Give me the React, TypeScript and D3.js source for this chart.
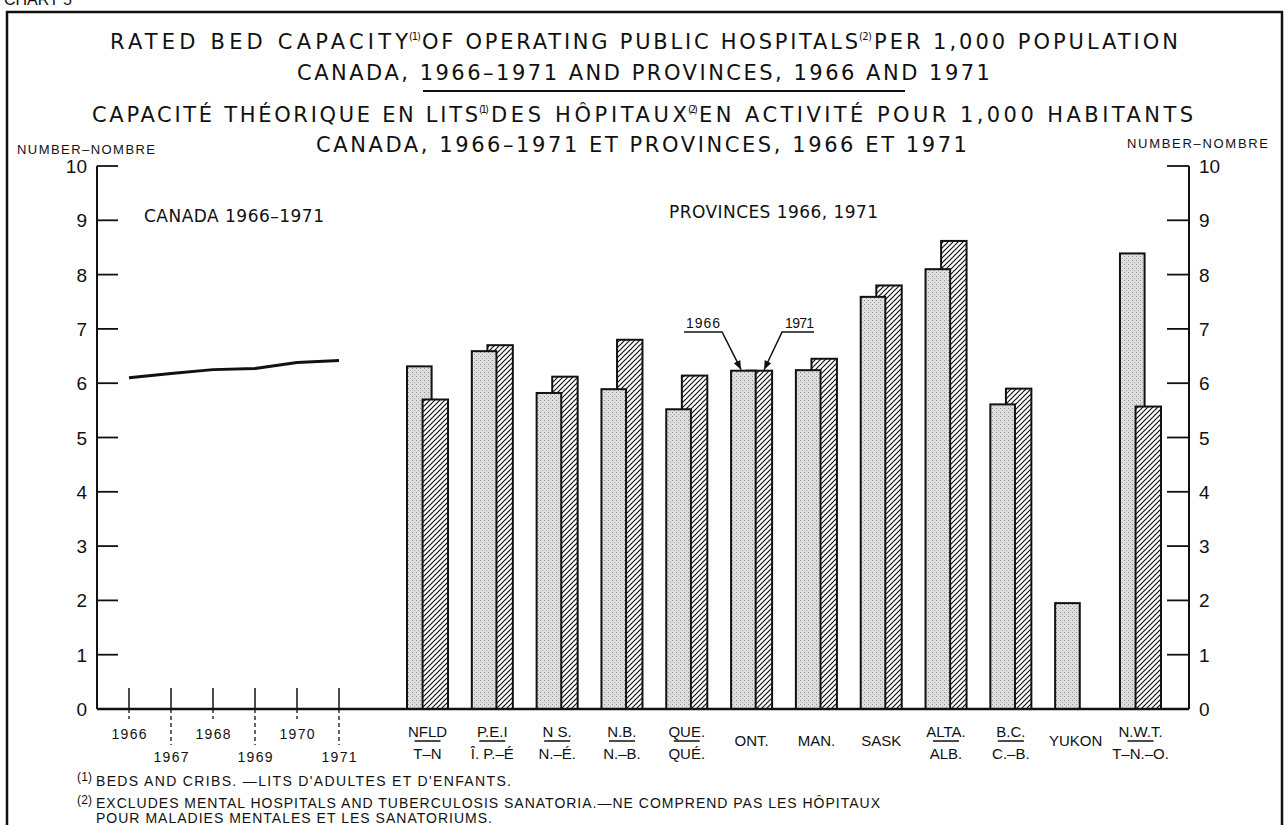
import React from "react";
import * as d3 from "d3";

// ---------- data ----------
const years = [1966, 1967, 1968, 1969, 1970, 1971];
const canadaValues = [6.1, 6.18, 6.25, 6.27, 6.38, 6.42];

const provinceCodes = ["NFLD", "P.E.I", "N S.", "N.B.", "QUE.", "ONT.", "MAN.", "SASK", "ALTA.", "B.C.", "YUKON", "N.W.T."];
const provinceFr = ["T–N", "Î. P.–É", "N.–É.", "N.–B.", "QUÉ.", "", "", "", "ALB.", "C.–B.", "", "T–N.–O."];
const values1966 = [6.31, 6.59, 5.82, 5.89, 5.52, 6.23, 6.24, 7.59, 8.1, 5.61, 1.95, 8.39];
const values1971: (number | null)[] = [5.7, 6.7, 6.12, 6.8, 6.14, 6.23, 6.45, 7.8, 8.62, 5.9, null, 5.57];

const yTicks = [0, 1, 2, 3, 4, 5, 6, 7, 8, 9, 10];
const yTickLabels = ["0", "1", "2", "3", "4", "5", "6", "7", "8", "9", "10"];

const FONT = "'Liberation Sans', Arial, sans-serif";
const TFONT = "'DejaVu Sans', 'Liberation Sans', sans-serif";

type TProps = { x: number; y: number; len?: number; size: number; anchor?: "start" | "middle" | "end"; font?: string; children: React.ReactNode };
const T = ({ x, y, len, size, anchor = "start", font = FONT, children }: TProps) => (
  <text
    x={x}
    y={y}
    fontSize={size}
    fontFamily={font}
    textAnchor={anchor}
    fill="#111"
    {...(len ? { textLength: len, lengthAdjust: "spacing" } : {})}
  >
    {children}
  </text>
);

export default function App() {
  const W = 1285;
  const H = 825;
  const y = d3.scaleLinear().domain([0, 10]).range([709, 166]);
  const xYear = d3.scaleLinear().domain([1966, 1971]).range([129, 339]);
  const xProv = d3.scaleBand<string>().domain(provinceCodes).range([407, 1161]).paddingInner(0.367).paddingOuter(0);
  const bw = xProv.bandwidth();
  const w66 = bw * 0.6;
  const off71 = bw * 0.38;
  const w71 = bw * 0.62;

  const line = d3
    .line<number>()
    .x((_, i) => xYear(years[i]))
    .y((d) => y(d))
    .curve(d3.curveLinear);

  const axisL = 97;
  const axisR = 1189;
  const y0 = y(0);

  const ontX = xProv("ONT.") as number;
  const ontTop = y(values1966[5]);

  return (
    <svg width={W} height={H} style={{ position: "absolute", left: 0, top: 0, background: "#fff" }}>
      <defs>
        <pattern id="stip" width="4" height="4" patternUnits="userSpaceOnUse">
          <rect width="4" height="4" fill="#dedede" />
          <rect x="0" y="0" width="1" height="1" fill="#8f8f8f" />
          <rect x="2" y="2" width="1" height="1" fill="#a8a8a8" />
        </pattern>
        <pattern id="hatch" width="5" height="5" patternUnits="userSpaceOnUse">
          <rect width="5" height="5" fill="#fff" />
          <path d="M-1,6 L6,-1 M-1,1 L1,-1 M4,6 L6,4" stroke="#111" strokeWidth="1.2" />
        </pattern>
        <marker id="arrow" viewBox="0 0 10 10" refX="10" refY="5" markerWidth="9" markerHeight="9" orient="auto-start-reverse" markerUnits="userSpaceOnUse">
          <path d="M0,1 L10,5 L0,9 Z" fill="#111" />
        </marker>
      </defs>

      {/* chart label (cut off at top, as in the source) */}
      <T x={4} y={5} size={16}>CHART 5</T>
      {/* frame */}
      <rect x={7} y={12} width={1275} height={900} fill="none" stroke="#111" strokeWidth={2.5} />

      {/* titles */}
      <T font={TFONT} x={110} y={49} len={298} size={21}>RATED BED CAPACITY</T>
      <T font={TFONT} x={409} y={40} len={12} size={10}>(1)</T>
      <T font={TFONT} x={422} y={49} len={436} size={21}>OF OPERATING PUBLIC HOSPITALS</T>
      <T font={TFONT} x={859} y={40} len={13} size={10}>(2)</T>
      <T font={TFONT} x={874} y={49} len={304} size={21}>PER 1,000 POPULATION</T>

      <T font={TFONT} x={297} y={80} len={693} size={21}>CANADA, 1966–1971 AND PROVINCES, 1966 AND 1971</T>
      <line x1={423} x2={905} y1={91} y2={91} stroke="#111" strokeWidth={2} />

      <T font={TFONT} x={92} y={122} len={386} size={21}>CAPACITÉ THÉORIQUE EN LITS</T>
      <T font={TFONT} x={479} y={113} len={10} size={10}>(1)</T>
      <T font={TFONT} x={491} y={122} len={196} size={21}>DES HÔPITAUX</T>
      <T font={TFONT} x={688} y={113} len={10} size={10}>(2)</T>
      <T font={TFONT} x={699} y={122} len={494} size={21}>EN ACTIVITÉ POUR 1,000 HABITANTS</T>

      <T font={TFONT} x={316} y={152} len={651} size={21}>CANADA, 1966–1971 ET PROVINCES, 1966 ET 1971</T>

      {/* axis unit labels */}
      <T x={17} y={154} len={138} size={13}>NUMBER–NOMBRE</T>
      <T x={1127} y={148} len={141} size={13}>NUMBER–NOMBRE</T>

      {/* panel labels */}
      <T font={TFONT} x={144} y={222} len={180} size={17}>CANADA 1966–1971</T>
      <T font={TFONT} x={669} y={218} len={209} size={17}>PROVINCES 1966, 1971</T>

      {/* axes */}
      <line x1={axisL} x2={axisL} y1={y(10)} y2={y0} stroke="#111" strokeWidth={2} />
      <line x1={axisR} x2={axisR} y1={y(10)} y2={y0} stroke="#111" strokeWidth={2} />
      {yTicks.map((v, i) => (
        <g key={v}>
          {v > 0 && <line x1={axisL} x2={axisL + 21} y1={y(v)} y2={y(v)} stroke="#111" strokeWidth={1.8} />}
          {v > 0 && <line x1={axisR - 22} x2={axisR} y1={y(v)} y2={y(v)} stroke="#111" strokeWidth={1.8} />}
          <T x={87} y={y(v) + 7} size={19} anchor="end">{yTickLabels[i]}</T>
          <T x={1199} y={y(v) + 7} size={19}>{yTickLabels[i]}</T>
        </g>
      ))}

      {/* Canada line panel: year ticks */}
      {years.map((yr, i) => {
        const x = xYear(yr);
        const odd = i % 2 === 1;
        return (
          <g key={yr}>
            <line x1={x} x2={x} y1={y0 - 21} y2={y0} stroke="#111" strokeWidth={1.5} />
            <line x1={x} x2={x} y1={y0} y2={y0 + (odd ? 36 : 10)} stroke="#111" strokeWidth={1.3} strokeDasharray="4,3" />
            <T x={x} y={odd ? 762 : 739} size={14} len={35} anchor="middle">{String(yr)}</T>
          </g>
        );
      })}
      <path d={line(canadaValues) || ""} fill="none" stroke="#111" strokeWidth={3} strokeLinejoin="round" />

      {/* province bars */}
      {provinceCodes.map((p, i) => {
        const gx = xProv(p) as number;
        const v66 = values1966[i];
        const v71 = values1971[i];
        const b66 = <rect key="a" x={gx} y={y(v66)} width={w66} height={y0 - y(v66)} fill="url(#stip)" stroke="#111" strokeWidth={2} />;
        const b71 =
          v71 == null ? null : (
            <rect key="b" x={gx + off71} y={y(v71)} width={w71} height={y0 - y(v71)} fill="url(#hatch)" stroke="#111" strokeWidth={2} />
          );
        const order = v71 != null && v71 < v66 ? [b66, b71] : [b71, b66];
        const cx = gx + bw / 2;
        const two = provinceFr[i] !== "";
        return (
          <g key={p}>
            {order}
            {two ? (
              <>
                <T x={cx} y={737} size={15} anchor="middle">{p}</T>
                <line x1={cx - 13} x2={cx + 13} y1={741} y2={741} stroke="#111" strokeWidth={1.5} />
                <T x={cx} y={759} size={15} anchor="middle">{provinceFr[i]}</T>
              </>
            ) : (
              <T x={cx} y={746} size={15} anchor="middle">{p}</T>
            )}
          </g>
        );
      })}

      {/* baseline */}
      <line x1={axisL} x2={axisR} y1={y0} y2={y0} stroke="#111" strokeWidth={2.5} />

      {/* annotation for Ontario bars */}
      <T x={ontX - 45} y={328} size={14} len={34}>1966</T>
      <polyline points={`${ontX - 47},332 ${ontX - 9},332 ${ontX + 10},${ontTop - 1}`} fill="none" stroke="#111" strokeWidth={1.5} markerEnd="url(#arrow)" />
      <T x={ontX + 54} y={328} size={14} len={29}>1971</T>
      <polyline points={`${ontX + 83},332 ${ontX + 51},332 ${ontX + 33},${ontTop - 1}`} fill="none" stroke="#111" strokeWidth={1.5} markerEnd="url(#arrow)" />

      {/* footnotes */}
      <T x={77} y={781} size={12} len={15}>(1)</T>
      <T x={96} y={786} size={14} len={415}>BEDS AND CRIBS. —LITS D'ADULTES ET D'ENFANTS.</T>
      <T x={77} y={804} size={12} len={15}>(2)</T>
      <T x={96} y={808} size={14} len={784}>EXCLUDES MENTAL HOSPITALS AND TUBERCULOSIS SANATORIA.—NE COMPREND PAS LES HÔPITAUX</T>
      <T x={96} y={823} size={14} len={396}>POUR MALADIES MENTALES ET LES SANATORIUMS.</T>
    </svg>
  );
}
